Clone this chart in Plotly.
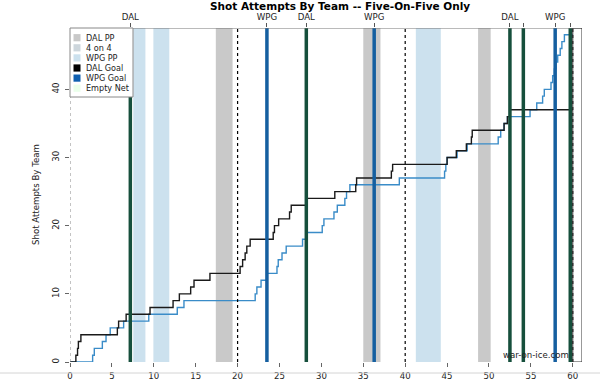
import plotly.graph_objects as go

# ---------------- data ----------------
dal_times = [0.7, 0.9, 1.0, 1.3, 5.65, 5.8, 6.7, 9.55, 12.3, 13.05, 14.4, 14.8, 16.7,
             20.3, 20.6, 20.9, 21.1, 21.5, 24.25, 24.4, 24.9, 26.2, 26.4, 28.25, 31.6,
             34.1, 34.2, 38.35, 38.5, 45.0, 46.1, 47.3, 47.9, 48.0, 51.8, 52.2, 52.5]
wpg_times = [2.7, 2.9, 3.86, 4.3, 4.8, 6.4, 9.4, 12.8, 13.6, 22.1, 22.3, 22.8, 23.5,
             24.7, 24.85, 25.3, 25.8, 27.75, 28.2, 30.1, 30.3, 31.5, 31.9, 32.8, 33.0,
             33.4, 39.3, 44.7, 44.85, 45.0, 46.2, 47.4, 51.1, 51.4, 51.8, 52.2, 54.9,
             55.7, 56.4, 56.6, 57.4, 57.6, 57.8, 58.0, 58.2, 58.5, 58.7, 59.0]
game_end = 60.0

dal_goals = [7.2, 28.2, 52.5, 54.1, 59.7]
wpg_goals = [23.5, 36.3, 57.9]
top_tick_times = [7.2, 23.5, 28.2, 36.3, 52.5, 54.1, 57.9, 59.7]
top_tick_labels = ["DAL", "WPG", "DAL", "WPG", "DAL", "", "WPG", ""]

dal_pp = [(17.4, 19.4), (35.0, 37.05), (48.7, 50.2)]
wpg_pp = [(7.55, 9.0), (9.95, 11.85), (41.27, 44.25)]
four_on_four = []
period_lines = [20, 40, 60]

x_ticks = list(range(0, 61, 5))
y_ticks = [0, 10, 20, 30, 40]

legend_labels = ["DAL PP", "4 on 4", "WPG PP", "DAL Goal", "WPG Goal", "Empty Net"]
legend_colors = ["#c8c8c8", "#cdd6dc", "#cce1ee", "#000000", "#1060b0", "#eaffea"]

X_MAX = 61.1
Y_MAX = 49

C_DAL_LINE = "#1a1a1a"
C_WPG_LINE = "#3a8cc8"
C_DAL_GOAL = "#164f3c"
C_WPG_GOAL = "#155fa0"
FONT = "DejaVu Sans"


def steps(times, end):
    xs = [0.0]
    ys = [0]
    for i, t in enumerate(times):
        xs.append(t)
        ys.append(i + 1)
    xs.append(end)
    ys.append(len(times))
    return xs, ys


fig = go.Figure()

dx, dy = steps(dal_times, game_end)
wx, wy = steps(wpg_times, game_end)
fig.add_trace(go.Scatter(x=wx, y=wy, mode="lines", line=dict(color=C_WPG_LINE, width=1.4, shape="hv"),
                         showlegend=False, hoverinfo="skip"))
fig.add_trace(go.Scatter(x=dx, y=dy, mode="lines", line=dict(color=C_DAL_LINE, width=1.4, shape="hv"),
                         showlegend=False, hoverinfo="skip"))
# invisible trace for top axis
fig.add_trace(go.Scatter(x=[0, X_MAX], y=[0, 0], xaxis="x2", mode="lines",
                         line=dict(width=0), opacity=0, showlegend=False, hoverinfo="skip"))

shapes = []
for a, b in dal_pp:
    shapes.append(dict(type="rect", xref="x", yref="y", x0=a, x1=b, y0=0, y1=Y_MAX,
                       fillcolor="#c9c9c9", line=dict(width=0), layer="below"))
for a, b in wpg_pp:
    shapes.append(dict(type="rect", xref="x", yref="y", x0=a, x1=b, y0=0, y1=Y_MAX,
                       fillcolor="#cce1ee", line=dict(width=0), layer="below"))
for a, b in four_on_four:
    shapes.append(dict(type="rect", xref="x", yref="y", x0=a, x1=b, y0=0, y1=Y_MAX,
                       fillcolor="#cdd6dc", line=dict(width=0), layer="below"))

# period lines
shapes.append(dict(type="line", xref="x", yref="y", x0=0, x1=0, y0=0, y1=Y_MAX,
                   line=dict(color="#888888", width=1, dash="dot"), layer="above"))
for p in period_lines:
    shapes.append(dict(type="line", xref="x", yref="y", x0=p, x1=p, y0=0, y1=Y_MAX,
                       line=dict(color="#000000", width=1.2, dash="dot"), layer="above"))

# goal lines
for g in dal_goals:
    shapes.append(dict(type="line", xref="x", yref="y", x0=g, x1=g, y0=0, y1=Y_MAX,
                       line=dict(color=C_DAL_GOAL, width=3.5), layer="above"))
for g in wpg_goals:
    shapes.append(dict(type="line", xref="x", yref="y", x0=g, x1=g, y0=0, y1=Y_MAX,
                       line=dict(color=C_WPG_GOAL, width=3.5), layer="above"))

# top border and right box
shapes.append(dict(type="line", xref="x", yref="y", x0=0, x1=X_MAX, y0=Y_MAX, y1=Y_MAX,
                   line=dict(color="#777777", width=1), layer="above"))
shapes.append(dict(type="rect", xref="x", yref="y", x0=game_end, x1=X_MAX, y0=0, y1=Y_MAX,
                   line=dict(color="#333333", width=1), fillcolor="rgba(0,0,0,0)", layer="above"))

L, R, T, B = 70, 18, 28, 20
PW, PH = 600 - L - R, 382 - T - B


def px2paper(px, py):
    return (px - L) / PW, (382 - B - py) / PH


# bottom light line
bx0, by = px2paper(0, 373)
bx1, _ = px2paper(600, 373)
shapes.append(dict(type="line", xref="paper", yref="paper", x0=bx0, x1=bx1, y0=by, y1=by,
                   line=dict(color="#d4d4d4", width=1)))

# legend box
lx0, ly0 = px2paper(70, 28)
lx1, ly1 = px2paper(133, 97)
shapes.append(dict(type="rect", xref="paper", yref="paper", x0=lx0, x1=lx1, y0=ly1, y1=ly0,
                   fillcolor="white", line=dict(color="#888888", width=1), layer="above"))
annotations = []
for i, (lab, col) in enumerate(zip(legend_labels, legend_colors)):
    cy = 37.7 + i * 10.1
    sx0, sy0 = px2paper(73.5, cy - 3.6)
    sx1, sy1 = px2paper(80.5, cy + 3.6)
    shapes.append(dict(type="rect", xref="paper", yref="paper", x0=sx0, x1=sx1, y0=sy1, y1=sy0,
                       fillcolor=col, line=dict(width=0), layer="above"))
    tx, ty = px2paper(83.5, cy)
    annotations.append(dict(xref="paper", yref="paper", x=tx, y=ty, text=lab, showarrow=False,
                            xanchor="left", yanchor="middle",
                            font=dict(family=FONT, size=8.1, color="#222222")))

# title
tx, ty = px2paper(340, 6)
annotations.append(dict(xref="paper", yref="paper", x=tx, y=ty,
                        text="<b>Shot Attempts By Team -- Five-On-Five Only</b>",
                        showarrow=False, xanchor="center", yanchor="middle",
                        font=dict(family=FONT, size=10.5, color="#000000")))
# y title
tx, ty = px2paper(36, 195)
annotations.append(dict(xref="paper", yref="paper", x=tx, y=ty, text="Shot Attempts By Team",
                        showarrow=False, textangle=-90, xanchor="center", yanchor="middle",
                        font=dict(family=FONT, size=8.6, color="#222222")))
# watermark
tx, ty = px2paper(536, 355)
annotations.append(dict(xref="paper", yref="paper", x=tx, y=ty, text="war-on-ice.com",
                        showarrow=False, xanchor="center", yanchor="middle",
                        font=dict(family=FONT, size=8.6, color="#222222")))

fig.update_layout(
    width=600, height=382,
    margin=dict(l=L, r=R, t=T, b=B, autoexpand=False),
    paper_bgcolor="white", plot_bgcolor="white",
    showlegend=False,
    shapes=shapes, annotations=annotations,
    xaxis=dict(range=[0, X_MAX], tickvals=x_ticks, ticks="outside", ticklen=4, tickcolor="#666666",
               ticklabelstandoff=2, showgrid=False, zeroline=False, showline=False,
               tickfont=dict(family=FONT, size=8.6, color="#222222")),
    xaxis2=dict(range=[0, X_MAX], overlaying="x", side="top", tickvals=top_tick_times,
                ticktext=top_tick_labels, ticks="outside", ticklen=4, tickcolor="#555555",
                showgrid=False, zeroline=False, showline=False,
                tickfont=dict(family=FONT, size=8.6, color="#222222")),
    yaxis=dict(range=[0, Y_MAX], tickvals=y_ticks, ticks="outside", ticklen=4, tickcolor="#666666",
               tickangle=-90, ticklabelstandoff=3, showgrid=False, zeroline=False, showline=False,
               tickfont=dict(family=FONT, size=8.6, color="#222222")),
)

fig.write_html("out.html", config={"displayModeBar": False},
               post_script="document.body.style.margin='0';document.body.style.overflow='hidden';")
